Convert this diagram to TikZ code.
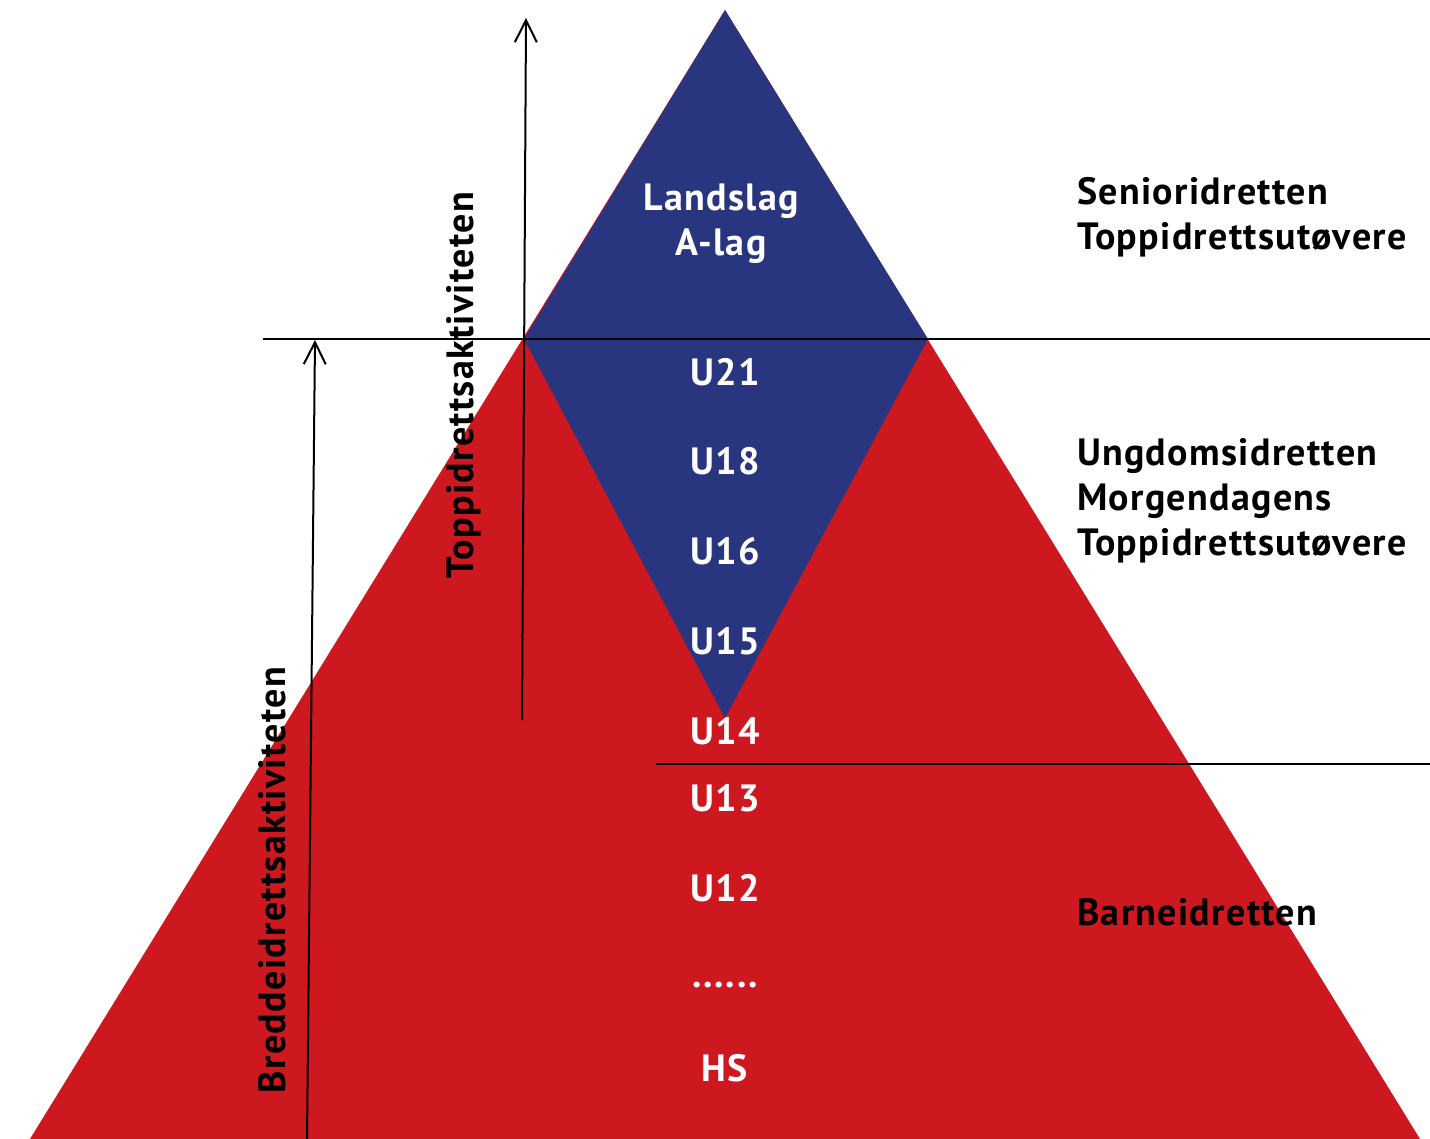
\documentclass[tikz,border=0pt]{standalone}
\usepackage{fontspec}
\setmainfont{PT Sans}[LetterSpace=3.5]
\usetikzlibrary{arrows.meta}
\definecolor{pyrred}{RGB}{204,24,30}
\definecolor{pyrblue}{RGB}{42,53,128}
\newcommand\pyrfont{\fontsize{19}{22.5}\selectfont\bfseries}
\begin{document}
\begin{tikzpicture}[x=0.5pt,y=-0.5pt,line join=round,
	stage/.style={text=white,font=\pyrfont},
	side/.style={anchor=west,align=left,font=\pyrfont},
	axis/.style={line width=1pt,-{Straight Barb[length=11pt,width=11pt,line width=1pt]}}]
		\useasboundingbox (0,0) rectangle (1430,1139);
		\fill[pyrred] (725,10)--(30,1139)--(1420,1139)--cycle;
		\fill[pyrblue] (725,10)--(524,339)--(725,718)--(928,339)--cycle;
		\draw[line width=1pt] (263,339)--(1430,339);
		\draw[line width=1pt] (656,764)--(1430,764);
		\coordinate (tb) at (522,720);
		\coordinate (tt) at (526,18);
		\coordinate (bb) at (307,1139);
		\coordinate (bt) at (315,340);
		\draw[axis] (tb)--(tt);
		\draw[axis] (bb)--(bt);
		\node[rotate=90,font=\pyrfont] (topp) at (464,385) {Toppidrettsaktiviteten};
		\node[rotate=90,font=\pyrfont] (bredde) at (272,880) {Breddeidrettsaktiviteten};
		\node[stage,align=center] (landslag) at (721,224) {Landslag\\A-lag};
		\node[stage] (u21) at (725,372) {U21};
		\node[stage] (u18) at (725,461) {U18};
		\node[stage] (u16) at (725,551) {U16};
		\node[stage] (u15) at (725,641) {U15};
		\node[stage] (u14) at (725,731) {U14};
		\node[stage] (u13) at (725,798) {U13};
		\node[stage] (u12) at (725,888) {U12};
		\node[stage] (dots) at (725,985) {......};
		\node[stage] (hs) at (725,1068) {HS};
		\node[side] (senior) at (1070,217) {Senioridretten\\Toppidrettsutøvere};
		\node[side] (ungdom) at (1070,501) {Ungdomsidretten\\Morgendagens\\Toppidrettsutøvere};
		\node[side] (barne) at (1070,912) {Barneidretten};
\end{tikzpicture}
\end{document}
